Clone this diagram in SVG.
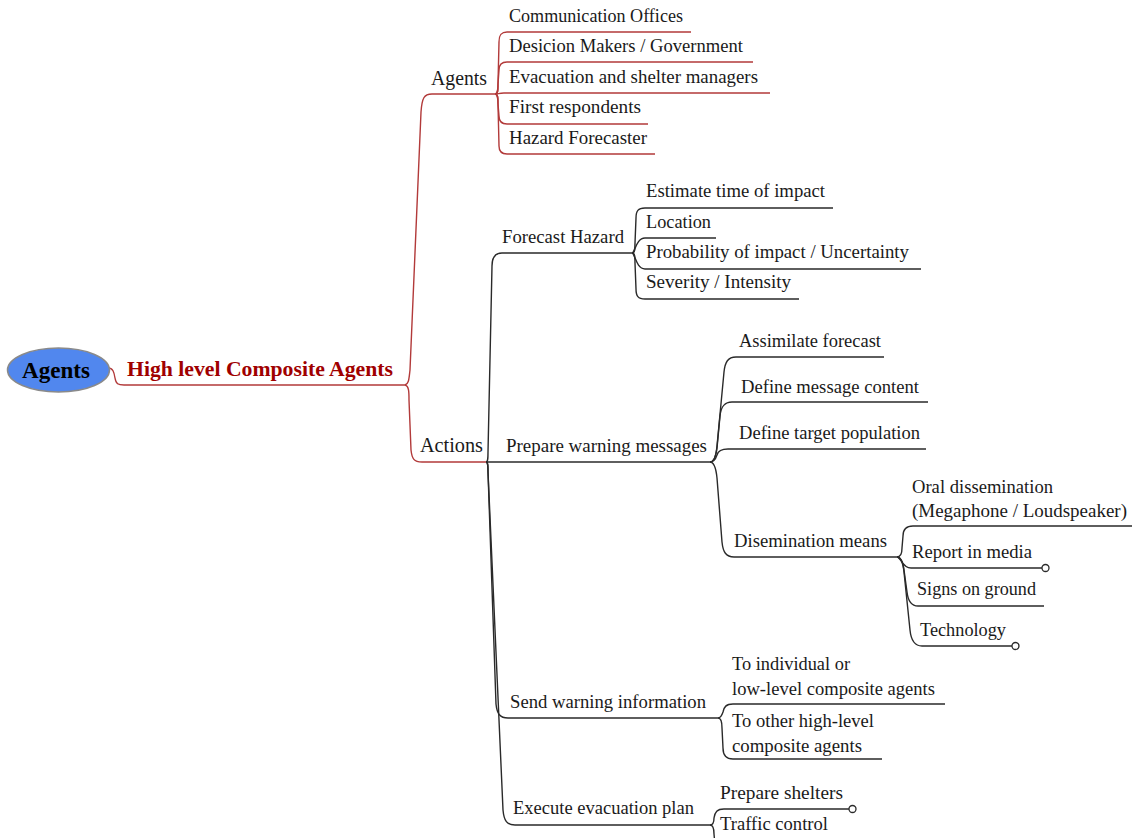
<svg xmlns="http://www.w3.org/2000/svg" width="1132" height="838" viewBox="0 0 1132 838">
<style>
  text { font-family: "Liberation Serif", "Times New Roman", serif; fill: #1a1a1a; }
  .t { font-size: 18px; }
  .l1 { font-size: 20px; }
  .hl { font-size: 21px; font-weight: bold; fill: #a00000; }
  .root { font-size: 23px; font-weight: bold; fill: #000; }
  .red path { fill: none; stroke: #b23a3a; stroke-width: 1.4; }
  .blk path { fill: none; stroke: #2a2a2a; stroke-width: 1.4; }
  .end { fill: #fff; stroke: #2a2a2a; stroke-width: 1.3; }
</style>
<rect width="1132" height="838" fill="#ffffff"/>

<g id="connectors">
  <g class="red">
    <path d="M 108 368 C 113 368, 114 372, 115 378 C 116 384, 118 385, 124 385 L 405 385"/>
    <path d="M 405 385 C 409 384, 409 378, 410 370 L 421 112 C 422 98, 424 94, 432 94 L 495 94"/>
    <path d="M 405 385 C 409 386, 409 392, 409 400 L 411 450 C 412 459, 414 462, 422 462 L 486 462"/>
    <path d="M 495 94 C 498 94, 498 90, 498 84 L 499 42 C 499 35, 501 32, 507 32 L 691 32"/>
    <path d="M 495 94 C 498 94, 498 90, 498 84 L 499 70 C 499 65, 501 62, 507 62 L 753 62"/>
    <path d="M 495 94 C 498 94, 499 93, 504 93 L 770 93"/>
    <path d="M 495 94 C 498 94, 498 98, 498 104 L 499 116 C 499 121, 501 124, 507 124 L 648 124"/>
    <path d="M 495 94 C 498 94, 498 98, 498 104 L 499 146 C 499 151, 501 154, 507 154 L 655 154"/>
  </g>
  <g class="blk">
    <path d="M 486 462 C 488 462, 488 458, 488 452 L 492 266 C 492 257, 495 253, 502 253 L 632 253"/>
    <path d="M 486 462 L 710 462"/>
    <path d="M 486 462 C 488 462, 488 466, 488 472 L 496 704 C 497 714, 500 718, 508 718 L 718 718"/>
    <path d="M 486 462 C 488 462, 488 466, 488 472 L 503 810 C 504 821, 507 825, 515 825 L 710 825"/>

    <path d="M 632 253 C 635 253, 635 249, 635 243 L 636 218 C 636 211, 638 208, 645 208 L 833 208"/>
    <path d="M 632 253 C 635 253, 636 238, 645 238 L 716 238"/>
    <path d="M 632 253 C 635 253, 636 269, 645 269 L 921 269"/>
    <path d="M 632 253 C 635 253, 635 257, 635 263 L 636 289 C 636 296, 638 299, 645 299 L 799 299"/>

    <path d="M 710 462 C 714 462, 716 456, 717 446 L 724 372 C 725 362, 728 357, 736 357 L 884 357"/>
    <path d="M 710 462 C 714 462, 716 456, 717 448 L 720 416 C 721 407, 724 402, 732 402 L 928 402"/>
    <path d="M 710 462 C 714 462, 716 458, 717 455 C 718 451, 721 449, 728 449 L 926 449"/>
    <path d="M 710 462 C 714 462, 716 468, 717 478 L 722 542 C 723 552, 726 557, 734 557 L 897 557"/>

    <path d="M 897 557 C 901 557, 902 553, 902 548 L 903 536 C 903 530, 906 526, 913 526 L 1132 526"/>
    <path d="M 897 557 C 901 557, 902 568, 911 568 L 1042 568"/>
    <path d="M 897 557 C 901 557, 903 562, 904 570 L 907 592 C 908 601, 911 606, 918 606 L 1044 606"/>
    <path d="M 897 557 C 901 557, 903 563, 904 572 L 910 630 C 911 640, 914 646, 922 646 L 1012 646"/>

    <path d="M 718 718 C 721 718, 722 715, 723 712 C 724 707, 726 704, 733 704 L 945 704"/>
    <path d="M 718 718 C 721 718, 722 722, 722 728 L 723 748 C 723 755, 726 759, 733 759 L 882 759"/>

    <path d="M 710 825 C 713 825, 714 822, 714 818 C 715 812, 717 809, 724 809 L 849 809"/>
    <path d="M 710 825 C 713 825, 714 829, 714 834 L 715 845"/>
  </g>
  <circle class="end" cx="1045.5" cy="568" r="3.5"/>
  <circle class="end" cx="1015.5" cy="646" r="3.5"/>
  <circle class="end" cx="852.5" cy="809" r="3.5"/>
</g>

<g id="root">
  <ellipse cx="58.5" cy="370" rx="51" ry="22" fill="#5187ee" stroke="#8a8a8a" stroke-width="1.5"/>
  <text class="root" x="56" y="378" text-anchor="middle" textLength="68" lengthAdjust="spacingAndGlyphs">Agents</text>
</g>
<g id="hlca"><text class="hl" x="127" y="376" textLength="266" lengthAdjust="spacingAndGlyphs">High level Composite Agents</text></g>

<g id="agents"><text class="l1" x="431" y="85" textLength="56" lengthAdjust="spacingAndGlyphs">Agents</text></g>
<g id="comm-offices"><text class="t" x="509" y="22" textLength="174" lengthAdjust="spacingAndGlyphs">Communication Offices</text></g>
<g id="decision-makers"><text class="t" x="509" y="52" textLength="234" lengthAdjust="spacingAndGlyphs">Desicion Makers / Government</text></g>
<g id="evac-managers"><text class="t" x="509" y="83" textLength="249" lengthAdjust="spacingAndGlyphs">Evacuation and shelter managers</text></g>
<g id="first-respondents"><text class="t" x="509" y="113" textLength="132" lengthAdjust="spacingAndGlyphs">First respondents</text></g>
<g id="hazard-forecaster"><text class="t" x="509" y="144" textLength="138" lengthAdjust="spacingAndGlyphs">Hazard Forecaster</text></g>

<g id="actions"><text class="l1" x="420" y="452" textLength="63" lengthAdjust="spacingAndGlyphs">Actions</text></g>

<g id="forecast-hazard"><text class="t" x="502" y="243" textLength="122" lengthAdjust="spacingAndGlyphs">Forecast Hazard</text></g>
<g id="estimate-time"><text class="t" x="646" y="197" textLength="179" lengthAdjust="spacingAndGlyphs">Estimate time of impact</text></g>
<g id="location"><text class="t" x="646" y="228" textLength="65" lengthAdjust="spacingAndGlyphs">Location</text></g>
<g id="probability"><text class="t" x="646" y="258" textLength="263" lengthAdjust="spacingAndGlyphs">Probability of impact / Uncertainty</text></g>
<g id="severity"><text class="t" x="646" y="288" textLength="145" lengthAdjust="spacingAndGlyphs">Severity / Intensity</text></g>

<g id="prepare-warning"><text class="t" x="506" y="452" textLength="201" lengthAdjust="spacingAndGlyphs">Prepare warning messages</text></g>
<g id="assimilate"><text class="t" x="739" y="347" textLength="142" lengthAdjust="spacingAndGlyphs">Assimilate forecast</text></g>
<g id="define-content"><text class="t" x="741" y="393" textLength="178" lengthAdjust="spacingAndGlyphs">Define message content</text></g>
<g id="define-target"><text class="t" x="739" y="439" textLength="181" lengthAdjust="spacingAndGlyphs">Define target population</text></g>
<g id="dissemination-means"><text class="t" x="734" y="547" textLength="153" lengthAdjust="spacingAndGlyphs">Disemination means</text></g>

<g id="oral">
  <text class="t" x="912" y="493" textLength="141" lengthAdjust="spacingAndGlyphs">Oral dissemination</text>
  <text class="t" x="912" y="517" textLength="215" lengthAdjust="spacingAndGlyphs">(Megaphone / Loudspeaker)</text>
</g>
<g id="report-media"><text class="t" x="912" y="558" textLength="120" lengthAdjust="spacingAndGlyphs">Report in media</text></g>
<g id="signs"><text class="t" x="917" y="595" textLength="119" lengthAdjust="spacingAndGlyphs">Signs on ground</text></g>
<g id="technology"><text class="t" x="920" y="636" textLength="86" lengthAdjust="spacingAndGlyphs">Technology</text></g>

<g id="send-warning"><text class="t" x="510" y="708" textLength="196" lengthAdjust="spacingAndGlyphs">Send warning information</text></g>
<g id="to-individual">
  <text class="t" x="732" y="670" textLength="118" lengthAdjust="spacingAndGlyphs">To individual or</text>
  <text class="t" x="732" y="695" textLength="203" lengthAdjust="spacingAndGlyphs">low-level composite agents</text>
</g>
<g id="to-other">
  <text class="t" x="732" y="727" textLength="142" lengthAdjust="spacingAndGlyphs">To other high-level</text>
  <text class="t" x="732" y="752" textLength="130" lengthAdjust="spacingAndGlyphs">composite agents</text>
</g>

<g id="execute-plan"><text class="t" x="513" y="814" textLength="181" lengthAdjust="spacingAndGlyphs">Execute evacuation plan</text></g>
<g id="prepare-shelters"><text class="t" x="720" y="799" textLength="123" lengthAdjust="spacingAndGlyphs">Prepare shelters</text></g>
<g id="traffic-control"><text class="t" x="720" y="830" textLength="108" lengthAdjust="spacingAndGlyphs">Traffic control</text></g>
</svg>
